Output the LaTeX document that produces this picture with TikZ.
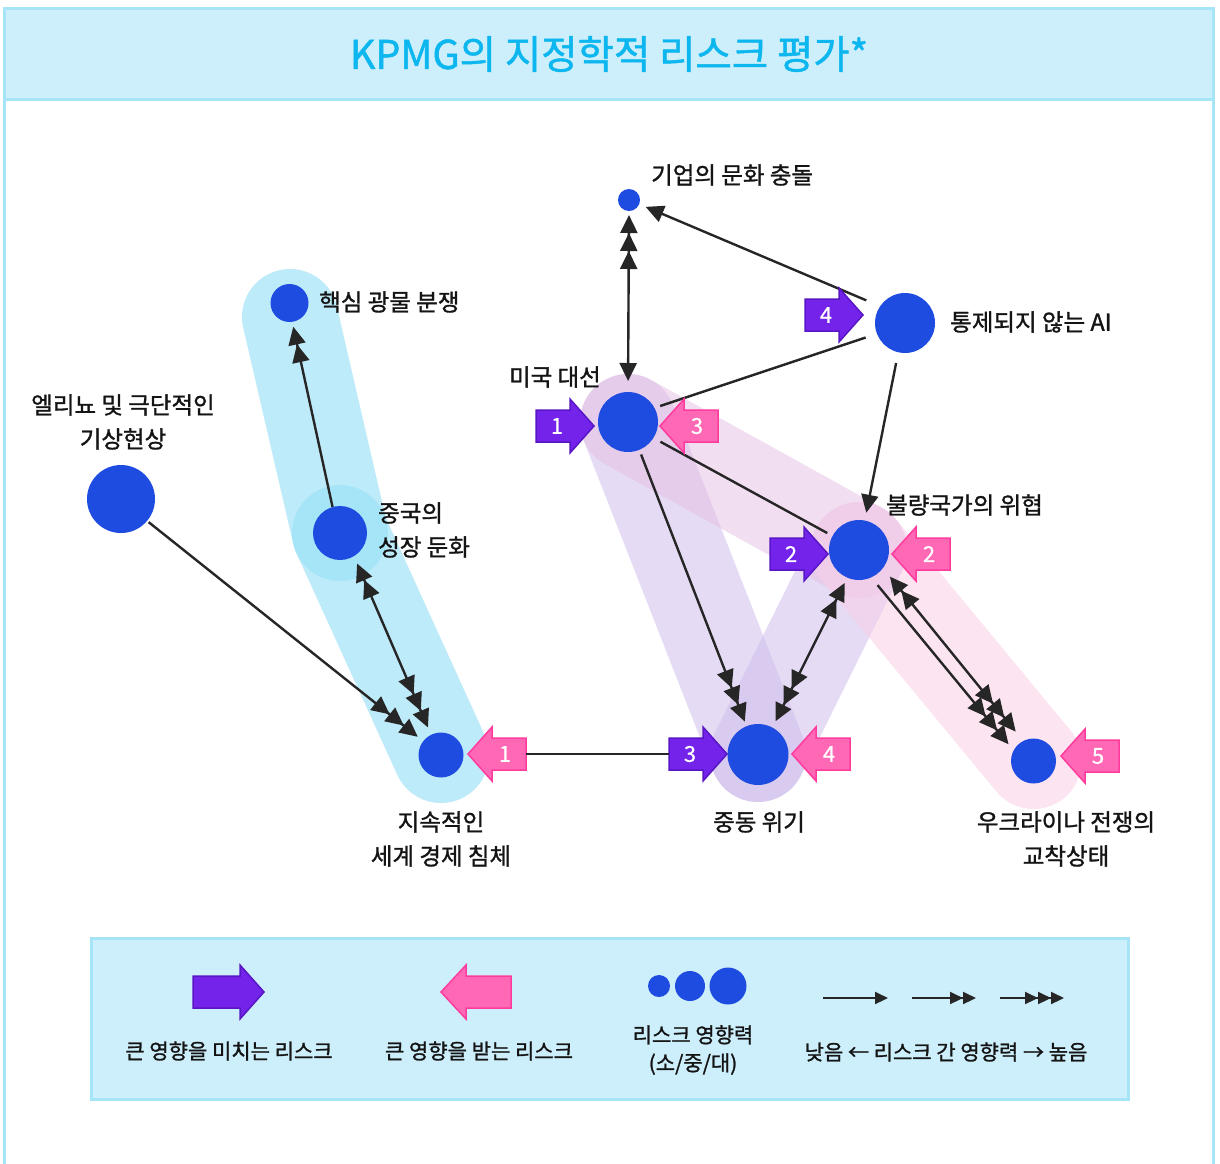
\documentclass[tikz,border=0pt]{standalone}
\usepackage{fontspec}
\setmainfont{Noto Sans CJK KR}[FakeBold=1.2]
\newfontfamily\numfont{Noto Sans CJK KR}[FakeBold=0.5]
\usetikzlibrary{arrows.meta}

\definecolor{riskblue}{RGB}{31,76,224}
\definecolor{framec}{RGB}{166,228,247}
\definecolor{boxfill}{RGB}{205,239,251}
\definecolor{titlec}{RGB}{12,182,238}
\definecolor{purpF}{RGB}{116,36,234}
\definecolor{purpD}{RGB}{88,22,196}
\definecolor{pinkF}{RGB}{255,104,180}
\definecolor{pinkD}{RGB}{255,60,158}
\definecolor{lineC}{RGB}{38,38,38}
\definecolor{txtC}{RGB}{20,20,20}
\definecolor{bandCyan}{RGB}{190,235,250}
\definecolor{haloCyan}{RGB}{166,229,248}
\definecolor{bandPurp}{RGB}{208,191,235}
\definecolor{bandMauve}{RGB}{230,190,228}
\definecolor{bandPink}{RGB}{250,206,231}

\tikzset{
  Hd/.tip={Triangle[length=18pt,width=17pt,sep=0pt]},
  Ld/.tip={Triangle[length=13pt,width=12pt,sep=0pt]},
  conn/.style={draw=lineC, line width=2.4pt},
  risk/.style={circle, fill=riskblue, draw=none, inner sep=0pt, outer sep=0pt},
  lbl/.style={inner sep=0pt, font=\fontsize{23.5}{34}\selectfont, text=txtC},
  lgd/.style={inner sep=0pt, font=\fontsize{21}{28}\selectfont, text=txtC},
  numtxt/.style={inner sep=0pt, text=white, font=\numfont\fontsize{22}{26}\selectfont},
  purpA/.style={fill=purpF, draw=purpD, line width=1.5pt, line join=miter},
  pinkA/.style={fill=pinkF, draw=pinkD, line width=1.5pt, line join=miter},
  band/.style={line width=96pt, line cap=round, line join=round},
}

% purple block arrow pointing right, tip at (#2,#3)
\newcommand\pusharrow[4]{%
  \begin{scope}[shift={(#2,#3)}]
    \draw[purpA] (0,0) -- (-24,-27) -- (-24,-16) -- (-58,-16) -- (-58,16) -- (-24,16) -- (-24,27) -- cycle;
    \node[numtxt] (#1) at (-37,0) {#4};
    \coordinate (#1-tail) at (-58,0);
  \end{scope}}
% pink block arrow pointing left, tip at (#2,#3)
\newcommand\pullarrow[4]{%
  \begin{scope}[shift={(#2,#3)}]
    \draw[pinkA] (0,0) -- (24,-27) -- (24,-16) -- (58,-16) -- (58,16) -- (24,16) -- (24,27) -- cycle;
    \node[numtxt] (#1) at (37,0) {#4};
    \coordinate (#1-tail) at (58,0);
  \end{scope}}

\begin{document}
\begin{tikzpicture}[x=1pt,y=-1pt]
\useasboundingbox (0,0) rectangle (1220,1163);
\fill[white] (0,0) rectangle (1220,1163);

% frame and title
\draw[framec, line width=3pt] (4.5,99) -- (4.5,1180);
\draw[framec, line width=3pt] (1213,99) -- (1213,1180);
\draw[fill=boxfill, draw=framec, line width=3pt] (4.5,8) rectangle (1213,99);
\node[font=\fontsize{39.5}{42}\selectfont, text=titlec, inner sep=0pt] (title) at (609,54) {KPMG의 지정학적 리스크 평가*};

% bands
\draw[band, bandCyan] (290,317) -- (340,533) -- (441,755);
\fill[haloCyan] (340,533) circle[radius=48pt];
\draw[band, bandPurp, opacity=.55] (628,422) -- (758,754);
\draw[band, bandPurp, opacity=.55] (859,550) -- (758,754);
\draw[band, bandMauve, opacity=.5] (628,422) -- (859,550);
\draw[band, bandPink, opacity=.55] (859,550) -- (1033.5,761);

% risk nodes
\node[risk, minimum size=22pt] (corp) at (629,200) {};
\node[risk, minimum size=60pt] (ai) at (905,323) {};
\node[risk, minimum size=38pt] (mineral) at (289.5,303) {};
\node[risk, minimum size=60pt] (us) at (628,422) {};
\node[risk, minimum size=68pt] (nino) at (121,499) {};
\node[risk, minimum size=54pt] (china) at (340,533) {};
\node[risk, minimum size=60pt] (rogue) at (859,550) {};
\node[risk, minimum size=45pt] (econ) at (441,755) {};
\node[risk, minimum size=61pt] (mideast) at (758,754.5) {};
\node[risk, minimum size=45pt] (ukr) at (1033.5,761) {};

% connectors
\draw[conn, -{Hd[]}, shorten <=15pt, shorten >=7pt] (ai.146) -- (corp.-22);
\draw[conn, {Hd[]Hd[]Hd[]}-{Hd[]}, shorten <=4pt, shorten >=11pt] (corp.south) -- (us.north);
\draw[conn, shorten <=6pt, shorten >=12pt] (us.28) -- (ai.201);
\draw[conn, -{Hd[]}, shorten <=11pt, shorten >=8pt] (ai.257) -- (rogue.79);
\draw[conn, shorten <=8pt, shorten >=6pt] (us.-32) -- (rogue.152);
\draw[conn, -{Hd[]Hd[]Hd[]}, shorten <=5pt, shorten >=5pt] (us.-68) -- (mideast.112);
\draw[conn, {Hd[]Hd[]}-{Hd[]Hd[]Hd[]}, shorten <=6pt, shorten >=7pt] (rogue.247) -- (mideast.62);
\draw[conn, -{Hd[]Hd[]Hd[]}, shorten <=10pt, shorten >=8pt] (rogue.-66) -- (ukr.152);
\draw[conn, {Hd[]Hd[]}-{Hd[]Hd[]Hd[]}, shorten <=11pt, shorten >=12pt] (rogue.-37) -- (ukr.117);
\draw[conn, -{Hd[]Hd[]Hd[]}, shorten <=2pt, shorten >=7pt] (nino.-40) -- (econ.142);
\draw[conn, {Hd[]Hd[]}-{Hd[]Hd[]Hd[]}, shorten <=8pt, shorten >=8pt] (china.-59) -- (econ.116);
\draw[conn, -{Hd[]Hd[]}, shorten >=5pt] (china.106) -- (mineral.-82);

% block arrows
\pullarrow{econin}{468}{754}{1}
\pusharrow{meout}{727}{754}{3}
\draw[conn] (econin-tail) -- (meout-tail);
\pusharrow{aiout}{863}{315}{4}
\pusharrow{usout}{594}{426}{1}
\pullarrow{usin}{660}{426}{3}
\pusharrow{rogueout}{828}{554}{2}
\pullarrow{roguein}{892}{554}{2}
\pullarrow{mein}{792}{754}{4}
\pullarrow{ukrin}{1061}{756}{5}

% labels
\node[lbl, anchor=west] (corpL) at (651,175) {기업의 문화 충돌};
\node[lbl, anchor=west] (aiL) at (950,322) {통제되지 않는 AI};
\node[lbl, anchor=west] (minL) at (319,302) {핵심 광물 분쟁};
\node[lbl, anchor=east] (usL) at (601,377) {미국 대선};
\node[lbl, align=center] (ninoL) at (123,422) {엘리뇨 및 극단적인\\기상현상};
\node[lbl, align=left, anchor=west] (chinaL) at (378,530) {중국의\\성장 둔화};
\node[lbl, anchor=west] (rogueL) at (886,505) {불량국가의 위협};
\node[lbl, align=center] (econL) at (441,839) {지속적인\\세계 경제 침체};
\node[lbl] (meL) at (759,822) {중동 위기};
\node[lbl, align=center] (ukrL) at (1066,839) {우크라이나 전쟁의\\교착상태};

% legend
\draw[fill=boxfill, draw=framec, line width=3pt] (91,938) rectangle (1128,1099);
\draw[purpA] (264,992) -- (240,965) -- (240,976) -- (193,976) -- (193,1008) -- (240,1008) -- (240,1019) -- cycle;
\draw[pinkA] (441,992) -- (466,965) -- (466,976) -- (511,976) -- (511,1008) -- (466,1008) -- (466,1019) -- cycle;
\node[lgd] (lgA) at (229,1051) {큰 영향을 미치는 리스크};
\node[lgd] (lgB) at (479,1051) {큰 영향을 받는 리스크};
\node[risk, minimum size=22pt] (d1) at (659,986) {};
\node[risk, minimum size=30pt] (d2) at (690,986) {};
\node[risk, minimum size=37pt] (d3) at (728,986) {};
\node[lgd, align=center] (lgC) at (693,1050) {리스크 영향력\\(소/중/대)};
\coordinate (la1) at (823,998); \coordinate (lb1) at (888,998);
\coordinate (la2) at (912,998); \coordinate (lb2) at (976,998);
\coordinate (la3) at (1000,998); \coordinate (lb3) at (1064,998);
\draw[conn, line width=2pt, -{Ld[]}] (la1) -- (lb1);
\draw[conn, line width=2pt, -{Ld[]Ld[]}] (la2) -- (lb2);
\draw[conn, line width=2pt, -{Ld[]Ld[]Ld[]}] (la3) -- (lb3);
\node[lgd] (lgD) at (946,1052) {낮음 ← 리스크 간 영향력 → 높음};
\end{tikzpicture}
\end{document}
